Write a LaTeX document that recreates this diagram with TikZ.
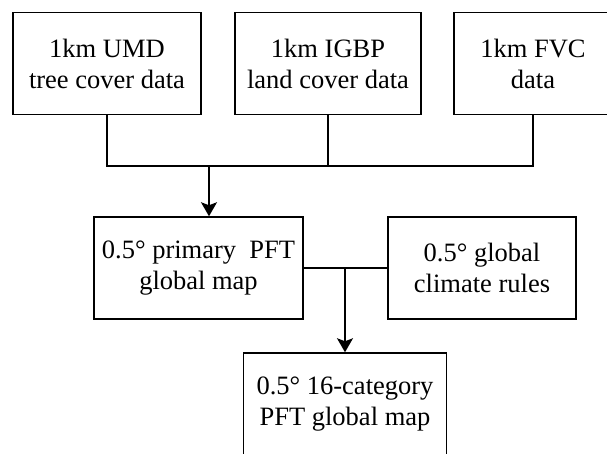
\documentclass[tikz,border=0pt]{standalone}
\usepackage{fontspec}
\setmainfont{Liberation Serif}
\usetikzlibrary{arrows.meta}

\begin{document}
\begin{tikzpicture}[x=1pt,y=-1pt]
    \tikzstyle{box}=[draw, line width=1.5pt, minimum height=102pt, inner sep=0pt,
                     align=center, font=\fontsize{26.5}{31}\selectfont]
    \tikzstyle{link}=[line width=1.5pt]
    \tikzstyle{flow}=[link, -{Stealth[length=14pt,width=16pt,inset=3pt]}]
    \clip (0,0) rectangle (607,453);
    % input data
    \node[box, minimum width=188pt] (umd) at (107,63.5) {1km UMD\\tree cover data};
    \node[box, minimum width=186pt] (igbp) at (328,63.5) {1km IGBP\\land cover data};
    \node[box, minimum width=158pt] (fvc) at (533,63.5) {1km FVC\\data};
    % intermediate maps
    \node[box, minimum width=209pt] (primary) at (198.5,268) {0.5° primary~~PFT\\global map};
    \node[box, minimum width=188pt] (climate) at (482,268) {0.5° global\\climate rules};
    \node[box, minimum width=203pt] (category) at (345,404) {0.5° 16-category\\PFT global map};
    % connectors
    \coordinate (topjoin) at (209,166);
    \coordinate (midjoin) at (category.north |- primary.east);
    \draw[link] (umd.south) |- (fvc.south |- topjoin) -- (fvc.south);
    \draw[link] (igbp.south) -- (igbp.south |- topjoin);
    \draw[flow] (topjoin) -- (topjoin |- primary.north);
    \draw[link] (primary.east) -- (climate.west);
    \draw[flow] (midjoin) -- (category.north);
\end{tikzpicture}
\end{document}
